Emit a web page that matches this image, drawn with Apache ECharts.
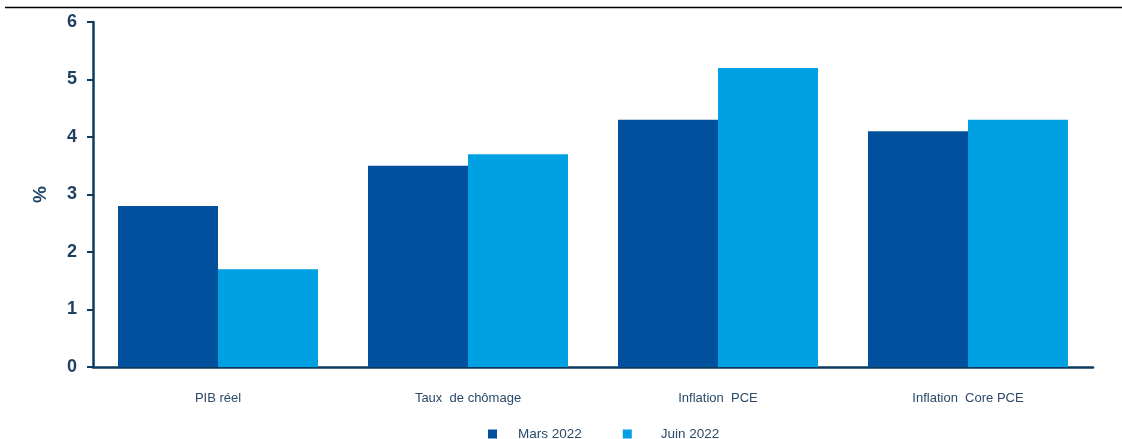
<!DOCTYPE html>
<html>
<head>
<meta charset="utf-8">
<script src="https://cdn.jsdelivr.net/npm/echarts@6/dist/echarts.min.js"></script>
<style>
  html, body { margin: 0; padding: 0; background: #fff; }
  #main { width: 1122px; height: 439px; }
</style>
</head>
<body>
<div id="main"></div>
<script>
// categories and values
var categories = ['PIB réel', 'Taux  de chômage', 'Inflation  PCE', 'Inflation  Core PCE'];
var mars2022 = [2.8, 3.5, 4.3, 4.1];
var juin2022 = [1.7, 3.7, 5.2, 4.3];
var yTicks = [0, 1, 2, 3, 4, 5, 6];

var axisColor = '#0d3b60';
var myChart = echarts.init(document.getElementById('main'));

myChart.setOption({
  animation: false,
  graphic: [
    // top rule left from the clipped title
    { type: 'line', shape: { x1: 5, y1: 7.5, x2: 1122, y2: 7.5 }, style: { stroke: '#000', lineWidth: 1.5 } }
  ],
  grid: { left: 93, right: 29, top: 22, bottom: 72 },
  legend: {
    top: 427,
    left: 488,
    padding: 0,
    itemWidth: 9,
    itemHeight: 9,
    itemGap: 41,
    icon: 'rect',
    textStyle: { color: '#2b4a68', fontSize: 13.5, fontFamily: 'Liberation Sans' },
    data: [
      { name: 'Mars 2022', textStyle: { padding: [0, 0, 0, 16] } },
      { name: 'Juin 2022', textStyle: { padding: [0, 0, 0, 24] } }
    ]
  },
  xAxis: {
    type: 'category',
    data: categories,
    axisLine: { lineStyle: { color: axisColor, width: 2.5 } },
    axisTick: { length: 6, lineStyle: { color: axisColor, width: 2 } },
    axisLabel: { color: '#2b4a68', fontSize: 13, fontFamily: 'Liberation Sans', margin: 25 }
  },
  yAxis: {
    type: 'value',
    min: 0,
    max: 6,
    interval: 1,
    name: '%',
    nameLocation: 'middle',
    nameGap: 43,
    nameTextStyle: { color: '#1f4466', fontSize: 19, fontWeight: 'bold', fontFamily: 'Liberation Sans' },
    axisLine: { show: true, lineStyle: { color: axisColor, width: 2.5 } },
    axisTick: { show: true, length: 6, lineStyle: { color: axisColor, width: 2 } },
    splitLine: { show: false },
    axisLabel: {
      color: '#1f3f5f', fontSize: 18, fontWeight: 'bold', fontFamily: 'Liberation Sans', margin: 16,
      formatter: function (v) { return yTicks.indexOf(v) >= 0 ? String(v) : ''; }
    }
  },
  series: [
    {
      name: 'Mars 2022',
      type: 'bar',
      data: mars2022,
      barGap: '0%',
      barCategoryGap: '20%',
      itemStyle: { color: '#00509e' }
    },
    {
      name: 'Juin 2022',
      type: 'bar',
      data: juin2022,
      itemStyle: { color: '#00a1e2' }
    }
  ]
});
</script>
</body>
</html>
